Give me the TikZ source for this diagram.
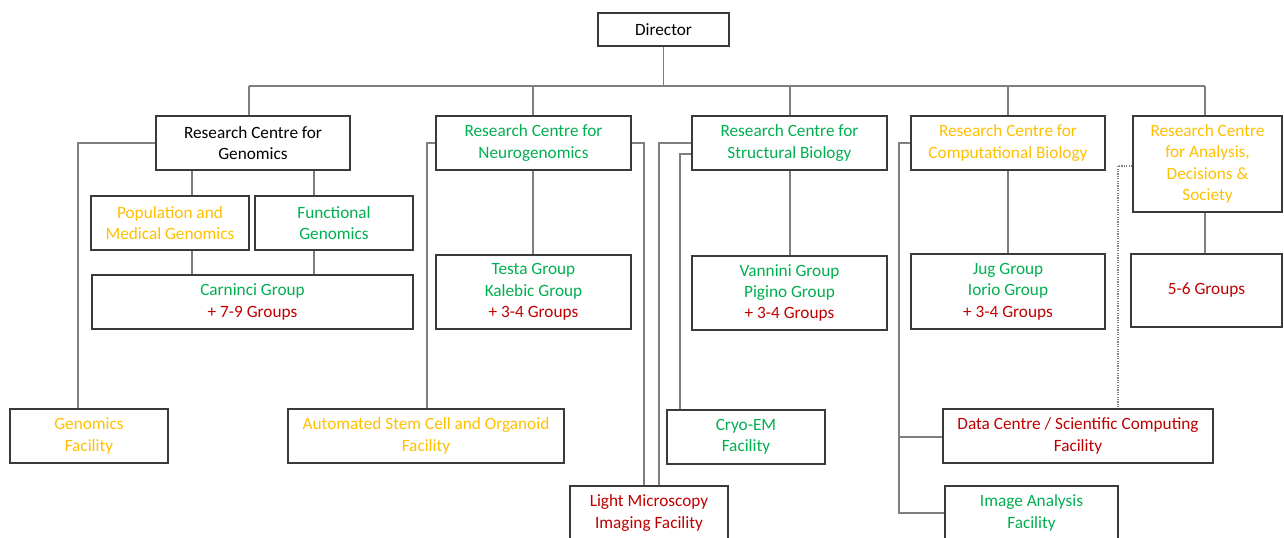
\documentclass[tikz,border=0pt]{standalone}
\usepackage{fontspec}
\setmainfont{Carlito}
\usetikzlibrary{backgrounds}
\definecolor{cOr}{HTML}{FFC000}
\definecolor{cGr}{HTML}{00B050}
\definecolor{cRd}{HTML}{C00000}
\definecolor{cBd}{HTML}{3A3A3A}
\definecolor{cLn}{HTML}{7F7F7F}
\tikzset{
  box/.style={draw=cBd, line width=1.6bp, fill=white, align=center, inner sep=0pt,
    font=\fontsize{17.3}{21.5}\selectfont},
  conn/.style={draw=cLn, line width=1.1bp},
}
\begin{document}
\begin{tikzpicture}[x=1bp,y=-1bp]
\useasboundingbox (0,0) rectangle (1284,538);
% nodes
\node[box, minimum width=131bp, minimum height=33bp] (dir) at (663.5,29.5) {Director};
\node[box, minimum width=194bp, minimum height=54bp] (rcg) at (253,143) {Research Centre for\\Genomics};
\node[box, minimum width=195bp, minimum height=54bp, text=cGr] (rcn) at (533.5,143) {Research Centre for\\Neurogenomics};
\node[box, minimum width=195bp, minimum height=54bp, text=cGr] (rcs) at (789.5,143) {Research Centre for\\Structural Biology};
\node[box, minimum width=194bp, minimum height=54bp, text=cOr] (rcc) at (1008,143) {Research Centre for\\Computational Biology};
\node[box, minimum width=149bp, minimum height=96bp, text=cOr] (rca) at (1207.5,164) {Research Centre\\for Analysis,\\Decisions \&\\Society};
\node[box, minimum width=158bp, minimum height=54bp, text=cOr] (pop) at (170,223) {Population and\\Medical Genomics};
\node[box, minimum width=158bp, minimum height=54bp, text=cGr] (fun) at (334,223) {Functional\\Genomics};
\node[box, minimum width=321bp, minimum height=54bp] (car) at (252.5,302) {\textcolor{cGr}{Carninci Group}\\\textcolor{cRd}{+ 7-9 Groups}};
\node[box, minimum width=195bp, minimum height=74bp] (tes) at (533.5,292) {\textcolor{cGr}{Testa Group}\\\textcolor{cGr}{Kalebic Group}\\\textcolor{cRd}{+ 3-4 Groups}};
\node[box, minimum width=195bp, minimum height=74bp] (van) at (789.5,293) {\textcolor{cGr}{Vannini Group}\\\textcolor{cGr}{Pigino Group}\\\textcolor{cRd}{+ 3-4 Groups}};
\node[box, minimum width=194bp, minimum height=75bp] (jug) at (1008,291.5) {\textcolor{cGr}{Jug Group}\\\textcolor{cGr}{Iorio Group}\\\textcolor{cRd}{+ 3-4 Groups}};
\node[box, minimum width=151bp, minimum height=73bp, text=cRd] (g56) at (1206.5,290.5) {5-6 Groups};
\node[box, minimum width=158bp, minimum height=54bp, text=cOr] (gf) at (89,436) {Genomics\\Facility};
\node[box, minimum width=276bp, minimum height=54bp, text=cOr] (asc) at (426,436) {Automated Stem Cell and Organoid\\Facility};
\node[box, minimum width=158bp, minimum height=54bp, text=cRd] (lm) at (649,513) {Light Microscopy\\Imaging Facility};
\node[box, minimum width=158bp, minimum height=54bp, text=cGr] (cryo) at (746,437) {Cryo-EM\\Facility};
\node[box, minimum width=270bp, minimum height=54bp, text=cRd] (dc) at (1078,436) {Data Centre / Scientific Computing\\Facility};
\node[box, minimum width=173bp, minimum height=54bp, text=cGr] (ia) at (1031.5,513) {Image Analysis\\Facility};
% connectors
\begin{scope}[on background layer]
\coordinate (bL) at (249,86);
\coordinate (bN) at (533,86);
\coordinate (bS) at (790,86);
\coordinate (bC) at (1008,86);
\coordinate (bR) at (1205,86);
\draw[conn] (dir.south) -- (dir.south |- bL);
\draw[conn] (bL) -- (bR);
\draw[conn] (bL) -- (bL |- rcg.north);
\draw[conn] (bN) -- (bN |- rcn.north);
\draw[conn] (bS) -- (bS |- rcs.north);
\draw[conn] (bC) -- (bC |- rcc.north);
\draw[conn] (bR) -- (bR |- rca.north);
% genomics
\coordinate (gp) at (192,0);
\coordinate (gq) at (314,0);
\draw[conn] (gp |- rcg.south) -- (gp |- pop.north);
\draw[conn] (gq |- rcg.south) -- (gq |- fun.north);
\draw[conn] (gp |- pop.south) -- (gp |- car.north);
\draw[conn] (gq |- fun.south) -- (gq |- car.north);
\coordinate (gfx) at (78,0);
\draw[conn] (rcg.west) -- (gfx |- rcg.west) -- (gfx |- gf.north);
% neuro
\draw[conn] (bN |- rcn.south) -- (bN |- tes.north);
\coordinate (ax) at (427,0);
\draw[conn] (rcn.west) -- (ax |- rcn.west) -- (ax |- asc.north);
\coordinate (lA) at (644,0);
\draw[conn] (rcn.east) -- (lA |- rcn.east) -- (lA |- lm.north);
% structural
\coordinate (lB) at (659,0);
\draw[conn] (rcs.west) -- (lB |- rcs.west) -- (lB |- lm.north);
\coordinate (cr) at (680,154);
\draw[conn] (cr -| rcs.west) -- (cr) -- (cr |- cryo.north);
\draw[conn] (bS |- rcs.south) -- (bS |- van.north);
% computational
\coordinate (cx) at (899,0);
\draw[conn] (rcc.west) -- (cx |- rcc.west) -- (cx |- ia.west) -- (ia.west);
\coordinate (dcy) at (0,437);
\draw[conn] (cx |- dcy) -- (dc.west |- dcy);
\draw[conn] (bC |- rcc.south) -- (bC |- jug.north);
% analysis
\coordinate (dx) at (1118,166);
\draw[conn, dash pattern=on 1.2bp off 1.2bp] (dx -| rca.west) -- (dx) -- (dx |- dc.north);
\draw[conn] (bR |- rca.south) -- (bR |- g56.north);
\end{scope}
\end{tikzpicture}
\end{document}
